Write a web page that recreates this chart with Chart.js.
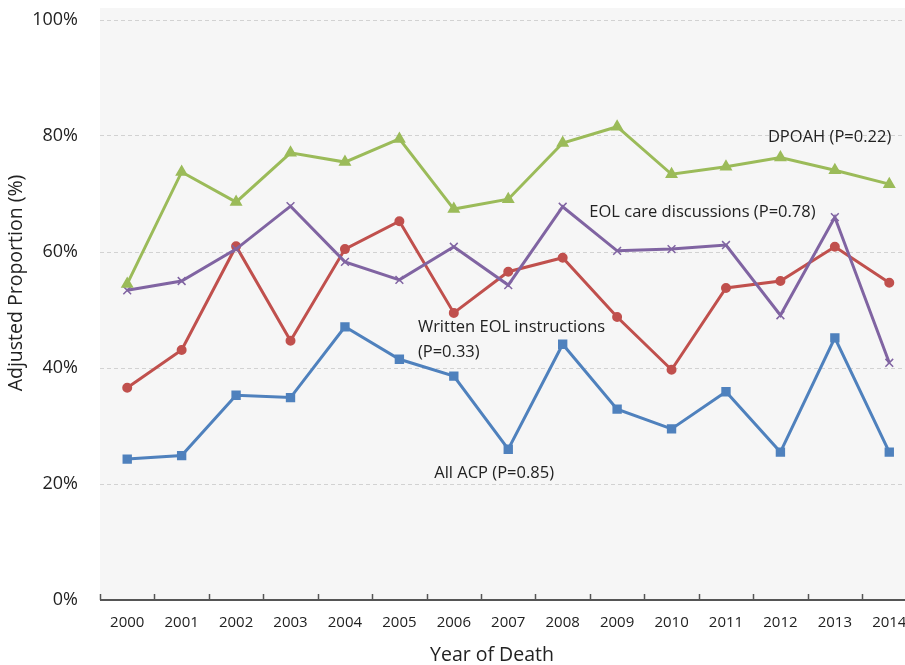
<!DOCTYPE html>
<html>
<head>
<meta charset="utf-8">
<script src="https://cdn.jsdelivr.net/npm/chart.js@4"></script>
<style>
  html, body { margin: 0; padding: 0; background: #fff; overflow: hidden; }
  #wrap { width: 924px; height: 665px; }
</style>
</head>
<body>
<div id="wrap"><canvas id="chart" width="924" height="665"></canvas></div>
<script>
const years = ["2000", "2001", "2002", "2003", "2004", "2005", "2006", "2007",
    "2008", "2009", "2010", "2011", "2012", "2013", "2014"];

const dpoah = [54.5, 73.8, 68.6, 77.1, 75.5, 79.5, 67.4, 69.1, 78.8, 81.6, 73.4, 74.7, 76.3, 74.1, 71.7];
const eolDiscussions = [53.4, 55.0, 60.5, 67.9, 58.3, 55.2, 60.9, 54.3, 67.8, 60.2, 60.5, 61.2, 49.1, 66.0, 40.9];
const writtenEol = [36.6, 43.1, 61.0, 44.7, 60.5, 65.3, 49.5, 56.6, 59.0, 48.8, 39.7, 53.8, 55.0, 60.9, 54.7];
const allAcp = [24.3, 24.9, 35.3, 34.9, 47.1, 41.5, 38.6, 26.0, 44.1, 32.9, 29.5, 35.9, 25.5, 45.2, 25.5];

const yTicks = [0, 20, 40, 60, 80, 100];

// text labels next to the lines (x = category index, y = value)
const notes = [
    { lines: ["DPOAH (P=0.22)"], x: 11.77, y: 79.8 },
    { lines: ["EOL care discussions (P=0.78)"], x: 8.49, y: 66.8 },
    { lines: ["Written EOL instructions", "(P=0.33)"], x: 5.34, y: 47.1 },
    { lines: ["All ACP (P=0.85)"], x: 5.64, y: 21.9 }
];

const FONT = "'Open Sans', 'Noto Sans', sans-serif";

const plotBackground = {
    id: "plotBackground",
    beforeDraw(chart) {
        const { ctx, chartArea } = chart;
        ctx.save();
        ctx.fillStyle = "#f6f6f6";
        ctx.fillRect(chartArea.left, chartArea.top - 12, chartArea.right - chartArea.left, chartArea.bottom - chartArea.top + 12);
        ctx.restore();
    }
};

const axisMarks = {
    id: "axisMarks",
    afterDatasetsDraw(chart) {
        const { ctx, chartArea, scales } = chart;
        const x = scales.x;
        const step = x.getPixelForValue(1) - x.getPixelForValue(0);
        ctx.save();
        ctx.strokeStyle = "#555";
        ctx.lineWidth = 2;
        ctx.beginPath();
        ctx.moveTo(chartArea.left, chartArea.bottom);
        ctx.lineTo(chartArea.right, chartArea.bottom);
        ctx.stroke();
        ctx.lineWidth = 1.5;
        for (let i = 0; i <= years.length; i++) {
            const px = Math.round(x.getPixelForValue(i) - step / 2) + 0.5;
            ctx.beginPath();
            ctx.moveTo(px, chartArea.bottom);
            ctx.lineTo(px, chartArea.bottom - 6);
            ctx.stroke();
        }
        // annotations
        ctx.fillStyle = "#222";
        ctx.font = "16.5px " + FONT;
        ctx.textAlign = "left";
        ctx.textBaseline = "middle";
        notes.forEach(n => {
            const px = x.getPixelForValue(n.x);
            const py = scales.y.getPixelForValue(n.y);
            n.lines.forEach((t, k) => ctx.fillText(t, px, py + k * 25));
        });
        // axis titles
        ctx.font = "19.5px " + FONT;
        ctx.textAlign = "center";
        ctx.fillText("Year of Death", 492, 655);
        ctx.translate(16, 283);
        ctx.rotate(-Math.PI / 2);
        ctx.fillText("Adjusted Proportion (%)", 0, 0);
        ctx.restore();
    }
};

new Chart(document.getElementById("chart").getContext("2d"), {
    type: "line",
    data: {
        labels: years,
        datasets: [
            {
                label: "DPOAH",
                data: dpoah,
                borderColor: "#9bbb59",
                backgroundColor: "#9bbb59",
                pointStyle: "triangle",
                pointRadius: 4.5,
                borderWidth: 3
            },
            {
                label: "EOL care discussions",
                data: eolDiscussions,
                borderColor: "#8064a2",
                backgroundColor: "#8064a2",
                pointStyle: "crossRot",
                pointRadius: 5.5,
                pointBorderWidth: 1.5,
                borderWidth: 3
            },
            {
                label: "Written EOL instructions",
                data: writtenEol,
                borderColor: "#c0504d",
                backgroundColor: "#c0504d",
                pointStyle: "circle",
                pointRadius: 3.5,
                borderWidth: 3
            },
            {
                label: "All ACP",
                data: allAcp,
                borderColor: "#4f81bd",
                backgroundColor: "#4f81bd",
                pointStyle: "rect",
                pointRadius: 4.5,
                borderWidth: 3
            }
        ]
    },
    options: {
        responsive: false,
        animation: false,
        events: [],
        layout: { padding: { top: 20, right: 1, left: 0, bottom: 0 } },
        plugins: {
            legend: { display: false },
            tooltip: { enabled: false }
        },
        elements: { line: { tension: 0 } },
        scales: {
            x: {
                offset: true,
                grid: { display: false, drawTicks: false },
                border: { display: false },
                ticks: { color: "#222", font: { family: FONT, size: 15 }, padding: 14, maxRotation: 0 },
                afterFit: s => { s.height = 65; }
            },
            y: {
                min: 0,
                max: 100,
                afterBuildTicks: s => { s.ticks = yTicks.map(v => ({ value: v })); },
                grid: {
                    color: c => c.tick.value === 0 ? "rgba(0,0,0,0)" : "#d2d2d2",
                    drawTicks: false,
                    lineWidth: 1
                },
                border: { display: false, dash: [4, 3] },
                ticks: { color: "#222", font: { family: FONT, size: 18 }, padding: 22, callback: v => v + "%" },
                afterFit: s => { s.width = 100; s.paddingTop = 0; s.paddingBottom = 0; }
            }
        }
    },
    plugins: [plotBackground, axisMarks]
});
</script>
</body>
</html>
